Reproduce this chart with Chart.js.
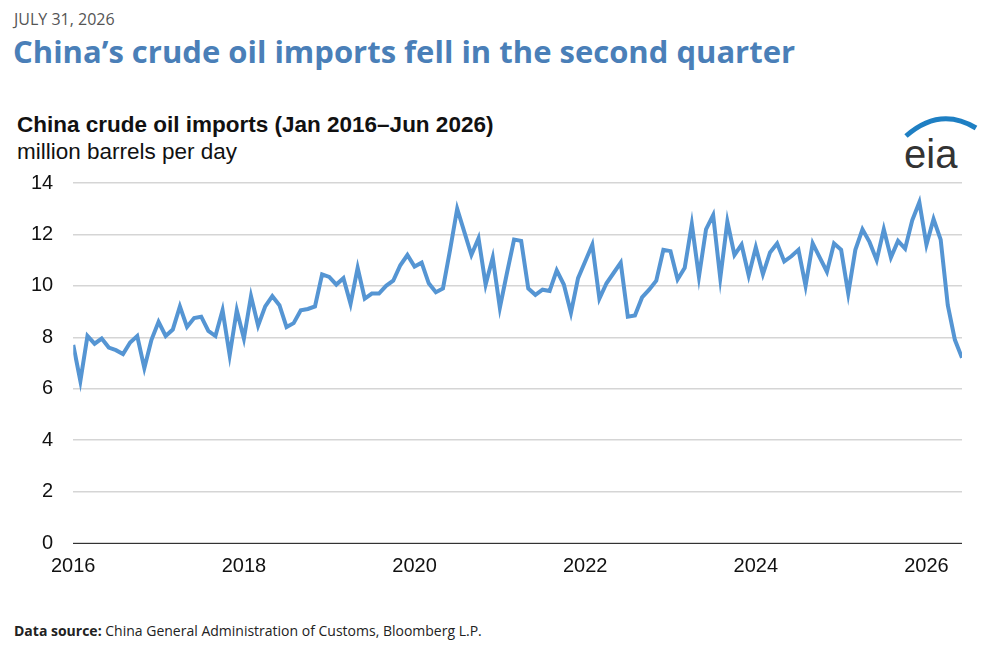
<!DOCTYPE html>
<html><head><meta charset="utf-8">
<script src="https://cdn.jsdelivr.net/npm/chart.js@4"></script>
<style>
body{margin:0;width:1000px;height:650px;background:#fff;font-family:"Liberation Sans",Arial,sans-serif;position:relative;overflow:hidden}
.t{position:absolute;white-space:nowrap}
</style></head><body>
<div class="t" style="left:14px;top:8px;font-size:16px;color:#555;font-family:'Open Sans'">JULY 31, 2026</div>
<div class="t" style="left:13px;top:30px;font-size:31px;font-weight:bold;color:#4a7fb8;font-family:'Open Sans'">China’s crude oil imports fell in the second quarter</div>
<div class="t" style="left:17px;top:112px;font-size:22.5px;font-weight:bold;color:#111">China crude oil imports (Jan 2016–Jun 2026)</div>
<div class="t" style="left:17px;top:139px;font-size:22.5px;color:#111">million barrels per day</div>
<svg class="t" style="left:900px;top:110px" width="82" height="62">
<path d="M6 26 Q40 -4 76 18" stroke="#1e7fc3" stroke-width="5" fill="none"/>
<text x="4" y="58" font-family="Liberation Sans" font-size="40" fill="#333">eia</text>
</svg>
<div class="t" style="left:14px;top:621px;font-size:14px;color:#222;font-family:'Open Sans'"><b>Data source:</b> China General Administration of Customs, Bloomberg L.P.</div>
<div style="position:absolute;left:0;top:151px;width:962px;height:430px"><canvas id="c"></canvas></div>
<script>
const startYear = 2016;
const values = [7.7,6.3,8.05,7.75,7.95,7.6,7.5,7.35,7.8,8.05,6.8,7.9,
8.6,8.05,8.3,9.2,8.4,8.75,8.8,8.25,8.05,9.05,7.3,9.05,
7.95,9.6,8.45,9.2,9.6,9.25,8.4,8.55,9.05,9.1,9.2,10.45,
10.35,10.05,10.3,9.3,10.7,9.5,9.7,9.7,10.0,10.2,10.8,11.2,
10.75,10.9,10.1,9.75,9.9,11.4,13.0,12.1,11.2,11.85,10.05,11.1,
9.15,10.5,11.8,11.75,9.9,9.65,9.85,9.8,10.6,10.05,8.95,10.3,
10.95,11.6,9.5,10.1,10.5,10.9,8.8,8.85,9.55,9.85,10.2,11.4,
11.35,10.25,10.7,12.4,10.35,12.2,12.75,10.3,12.5,11.2,11.6,10.4,
11.5,10.45,11.3,11.65,10.95,11.15,11.4,10.0,11.65,11.1,10.55,11.65,
11.4,9.7,11.4,12.2,11.7,11.0,12.2,11.1,11.75,11.45,12.55,13.25,
11.6,12.6,11.8,9.25,7.9,7.2];
const yTicks = [0,2,4,6,8,10,12,14];
const xTicks = [2016,2018,2020,2022,2024,2026];
const pts = values.map((v,i)=>({x:startYear+i/12,y:v}));
new Chart(document.getElementById('c'),{
type:'line',
data:{datasets:[{data:pts,borderColor:'#5595d3',borderWidth:4,pointRadius:0,tension:0,fill:false}]},
options:{responsive:true,maintainAspectRatio:false,animation:false,
plugins:{legend:{display:false},tooltip:{enabled:false}},
layout:{padding:{top:4,right:0,left:11}},
scales:{
x:{type:'linear',min:2016,max:2026+5/12,
 afterBuildTicks:a=>{a.ticks=xTicks.map(v=>({value:v}))},
 grid:{display:false,drawTicks:true},border:{color:'#333',width:1},
 ticks:{color:'#111',font:{size:20,family:'Liberation Sans'},callback:v=>String(v),maxRotation:0,autoSkip:false}},
y:{min:0,max:14,
 afterBuildTicks:a=>{a.ticks=yTicks.map(v=>({value:v}))},
 grid:{color:'#d5d5d5',lineWidth:1.5,drawTicks:false},border:{display:false},
 ticks:{color:'#111',font:{size:20,family:'Liberation Sans'},padding:20}}
}}});
</script>
</body></html>
